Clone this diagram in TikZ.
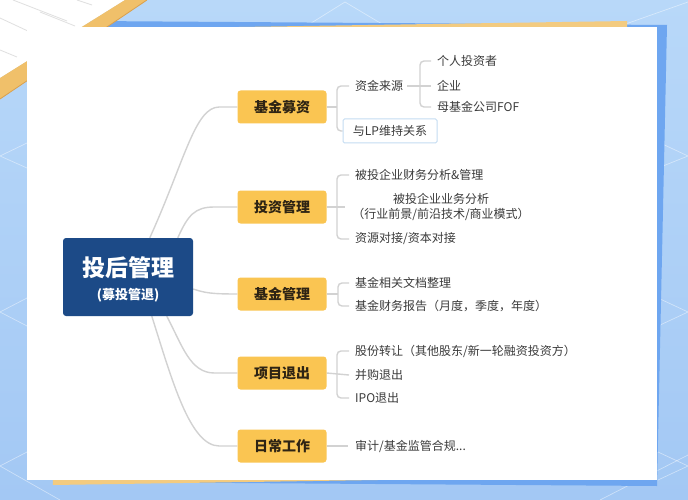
\documentclass[tikz,border=0pt]{standalone}
\usepackage{fontspec}
\setmainfont{Noto Sans CJK SC}
\usetikzlibrary{calc}
\definecolor{bgtop}{HTML}{B8D8F9}
\definecolor{bgbot}{HTML}{A3C8F4}
\definecolor{frameblue}{HTML}{6EA6F0}
\definecolor{frameorange}{HTML}{F3CB80}
\definecolor{bandorange}{HTML}{F0C06A}
\definecolor{bandedge}{HTML}{D9A04E}
\definecolor{rootblue}{HTML}{1C4A87}
\definecolor{branchfill}{HTML}{FAC552}
\definecolor{branchtext}{HTML}{2E2414}
\definecolor{linegray}{HTML}{D2D2D2}
\definecolor{childtext}{HTML}{3A3A3A}
\definecolor{lpblue}{HTML}{C4DCF2}
\pgfdeclarelayer{back}
\pgfdeclarelayer{lines}
\pgfsetlayers{back,lines,main}
\tikzset{
  rootbox/.style={fill=rootblue, rounded corners=3pt, minimum width=130pt, minimum height=78pt, inner sep=0pt},
  roottext/.style={text=white, font=\fontsize{23}{26}\selectfont\bfseries, inner sep=0pt},
  rootsub/.style={text=white, font=\fontsize{13}{15}\selectfont\bfseries, inner sep=0pt},
  branch/.style={fill=branchfill, rounded corners=3pt, minimum width=89pt, minimum height=33pt, inner sep=0pt,
    text=branchtext, font=\fontsize{14}{16}\selectfont\bfseries},
  leaf/.style={anchor=west, inner sep=0pt, text=childtext, font=\fontsize{12}{14}\selectfont},
  lpbox/.style={draw=lpblue, line width=1pt, fill=white, rounded corners=1.5pt, minimum width=94pt, minimum height=24pt,
    inner sep=0pt, text=childtext, font=\fontsize{12}{14}\selectfont},
  conn/.style={draw=linegray, line width=1.4pt},
  brk/.style={draw=linegray, line width=1.4pt, rounded corners=4pt},
  deco/.style={draw=white, opacity=0.45, line width=0.7pt},
  paperline/.style={draw=black!12, line width=0.8pt}
}
\begin{document}
\begin{tikzpicture}[x=1pt,y=-1pt]
\useasboundingbox (0,0) rectangle (688,500);
\begin{pgfonlayer}{back}
  % background
  \shade[top color=bgtop, bottom color=bgbot] (0,0) rectangle (688,500);
  % decorative faint lines
  \draw[deco] (300,30) -- (345,2) -- (392,30);
  \draw[deco] (620,26) -- (688,2);
  \draw[deco] (658,142) -- (688,156) -- (658,168);
  \draw[deco] (658,298) -- (688,312) -- (658,326);
  \draw[deco] (658,452) -- (688,466) -- (658,480);
  \draw[deco] (27,143) -- (0,156) -- (27,168);
  \draw[deco] (27,298) -- (0,312) -- (27,326);
  \draw[deco] (27,452) -- (0,466) -- (60,500);
  \draw[deco] (600,500) -- (688,455);
  % blue frame behind card
  \fill[frameblue] (90,21) -- (667,25) -- (657,486) -- (95,482) -- cycle;
  % orange frame
  \fill[frameorange] (45,30) -- (627,21) -- (637,476) -- (53,485) -- cycle;
  % paper at top-left
  \fill[white] (0,0) -- (125,0) -- (0,78) -- cycle;
  \draw[paperline] (13,0) -- (67,21);
  \draw[paperline] (0,18) -- (30,32);
  \draw[paperline] (0,50) -- (17,57);
  \draw[paperline] (77,0) -- (92,5);
  \draw[paperline] (40,12) -- (75,26);
  % orange band
  \fill[bandorange] (125,0) -- (147,0) -- (0,99) -- (0,78) -- cycle;
  \draw[bandedge, line width=0.8pt] (147,0) -- (0,99);
  % white card
  \fill[white] (27,27) rectangle (657,480);
\end{pgfonlayer}

% root
\node[rootbox] (root) at (128,277) {};
\node[roottext] (roottitle) at (128,268) {投后管理};
\node[rootsub] (rootsubt) at (128,295) {(募投管退)};

% branches
\node[branch] (b1) at (282,107) {基金募资};
\node[branch] (b2) at (282,207) {投资管理};
\node[branch] (b3) at (282,294) {基金管理};
\node[branch] (b4) at (282,373) {项目退出};
\node[branch] (b5) at (282,446) {日常工作};

% children of b1
\node[leaf] (c11) at (355,86) {资金来源};
\node[lpbox] (c12) at (390,131) {与LP维持关系};
\node[leaf] (g1) at (437,61) {个人投资者};
\node[leaf] (g2) at (437,86) {企业};
\node[leaf] (g3) at (437,107) {母基金公司FOF};

% children of b2
\node[leaf] (c21) at (355,175) {被投企业财务分析\&管理};
\node[inner sep=0pt, text=childtext, font=\fontsize{12}{15}\selectfont, align=center] (c22) at (441,207)
  {被投企业业务分析\\（行业前景/前沿技术/商业模式）};
\node[leaf] (c23) at (355,239) {资源对接/资本对接};

% children of b3
\node[leaf] (c31) at (355,283) {基金相关文档整理};
\node[leaf] (c32) at (355,306) {基金财务报告（月度，季度，年度）};

% children of b4
\node[leaf] (c41) at (355,351) {股份转让（其他股东/新一轮融资投资方）};
\node[leaf] (c42) at (355,375) {并购退出};
\node[leaf] (c43) at (355,398) {IPO退出};

% child of b5
\node[leaf] (c51) at (355,446) {审计/基金监管合规...};

\begin{pgfonlayer}{lines}
  % root to branches
  \draw[conn] ($(root.north west)+(87,0)$) .. controls (185,160) and (195,107) .. ($(b1.west)+(-18,0)$) -- (b1.west);
  \draw[conn] ($(root.north west)+(115,0)$) .. controls (188,215) and (195,207) .. ($(b2.west)+(-23,0)$) -- (b2.west);
  \draw[conn] ($(root.east)+(0,12)$) .. controls (205,293) and (212,294) .. (b3.west);
  \draw[conn] ($(root.south west)+(104,0)$) .. controls (182,345) and (190,373) .. ($(b4.west)+(-23,0)$) -- (b4.west);
  \draw[conn] ($(root.south west)+(89,0)$) .. controls (172,380) and (190,446) .. ($(b5.west)+(-18,0)$) -- (b5.west);

  % b1 bracket
  \coordinate (k1) at (337,107);
  \draw[conn] (b1.east) -- (k1);
  \draw[brk] ($(c11.west)+(-6,0)$) -- (k1 |- c11.west) -- (k1 |- c12.west) -- (c12.west);
  % c11 bracket
  \coordinate (k2) at (420,86);
  \draw[conn] ($(c11.east)+(4,0)$) -- ($(g2.west)+(-6,0)$);
  \draw[brk] ($(g1.west)+(-6,0)$) -- (k2 |- g1.west) -- (k2 |- g3.west) -- ($(g3.west)+(-6,0)$);

  % b2 bracket
  \coordinate (k3) at (337,207);
  \draw[conn] (b2.east) -- ($(k3)+(8,0)$);
  \draw[brk] ($(c21.west)+(-6,0)$) -- (k3 |- c21.west) -- (k3 |- c23.west) -- ($(c23.west)+(-6,0)$);

  % b3 bracket
  \coordinate (k4) at (338,294);
  \draw[conn] (b3.east) -- (k4);
  \draw[brk] ($(c31.west)+(-6,0)$) -- (k4 |- c31.west) -- (k4 |- c32.west) -- ($(c32.west)+(-6,0)$);

  % b4 bracket
  \coordinate (k5) at (337,375);
  \draw[conn] (b4.east) -- ($(c42.west)+(-6,0)$);
  \draw[brk] ($(c41.west)+(-6,0)$) -- (k5 |- c41.west) -- (k5 |- c43.west) -- ($(c43.west)+(-6,0)$);

  % b5
  \draw[conn] (b5.east) -- ($(c51.west)+(-7,0)$);
\end{pgfonlayer}
\end{tikzpicture}
\end{document}
